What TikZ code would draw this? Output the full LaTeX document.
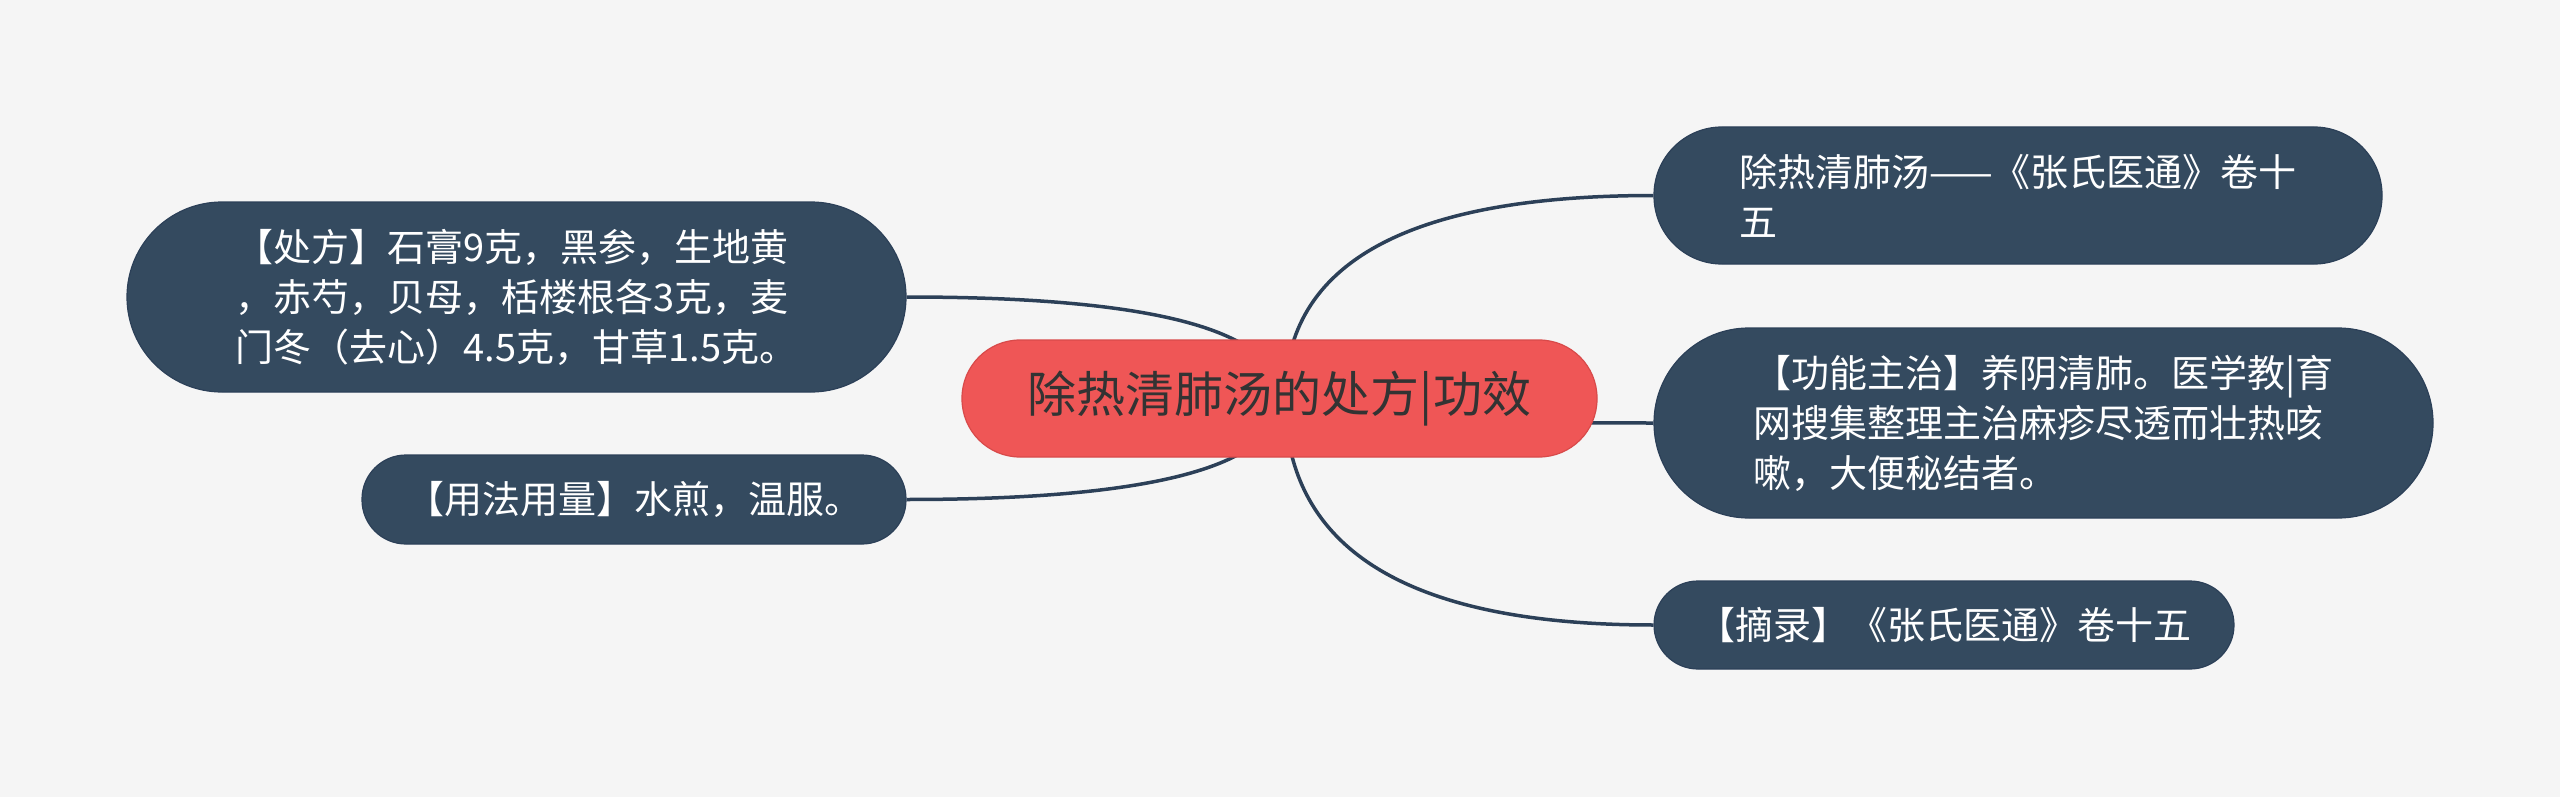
\documentclass[tikz,border=0pt]{standalone}
\usepackage{fontspec}
\usetikzlibrary{calc}
\newfontfamily\cjk{Noto Sans CJK SC}
\definecolor{bgc}{HTML}{F5F5F5}
\definecolor{navy}{HTML}{344A5F}
\definecolor{navyline}{HTML}{2C4058}
\definecolor{coral}{HTML}{EF5656}
\definecolor{coraledge}{HTML}{D84A4A}
\definecolor{darktext}{HTML}{333333}
\pgfdeclarelayer{back}
\pgfdeclarelayer{bg}
\pgfsetlayers{back,bg,main}
\tikzset{
  child/.style={draw=navyline, line width=1.2pt, fill=navy, text=white, inner sep=0pt, align=left,
    font=\cjk\fontsize{38}{50}\selectfont},
  root/.style={draw=coraledge, line width=1.2pt, fill=coral, text=darktext, inner sep=0pt,
    minimum width=635pt, minimum height=117pt, rounded corners=58pt,
    font=\cjk\fontsize{49}{60}\selectfont},
  link/.style={draw=navyline, line width=3.5pt}
}
\newcommand{\qlink}[2]{%
  \draw[link] (#1) .. controls ($(#1)!0.667!(#1 |- #2)$) and ($(#2)!0.667!(#1 |- #2)$) .. (#2);}
\begin{document}
\begin{tikzpicture}[x=1pt,y=-1pt]
\begin{pgfonlayer}{back}
\fill[bgc] (0,0) rectangle (2560,797);
\end{pgfonlayer}
\useasboundingbox (0,0) rectangle (2560,797);
\node[root] (root) at (1279.5,398.5) {除热清肺汤的处方|功效};
\coordinate (lo) at (1280,398);
\coordinate (ro) at (1285,398);
\node[child, minimum width=779pt, minimum height=190pt, rounded corners=95pt] (c1) at (516.5,297)
  {【处方】石膏9克，黑参，生地黄\\，赤芍，贝母，栝楼根各3克，麦\\门冬（去心）4.5克，甘草1.5克。};
\node[child, minimum width=544pt, minimum height=89pt, rounded corners=44pt] (c2) at (634,499.5)
  {【用法用量】水煎，温服。};
\node[child, minimum width=728pt, minimum height=137pt, rounded corners=68pt] (r1) at (2018,195.5)
  {除热清肺汤——《张氏医通》卷十\\五};
\node[child, minimum width=779pt, minimum height=190pt, rounded corners=95pt] (r2) at (2043.5,423)
  {【功能主治】养阴清肺。医学教|育\\网搜集整理主治麻疹尽透而壮热咳\\嗽，大便秘结者。};
\node[child, minimum width=580pt, minimum height=88pt, rounded corners=44pt] (r3) at (1944,625)
  {【摘录】《张氏医通》卷十五};
\begin{pgfonlayer}{bg}
\qlink{lo}{c1.east}
\qlink{lo}{c2.east}
\qlink{ro}{r1.west}
\qlink{ro}{r2.west}
\qlink{ro}{r3.west}
\end{pgfonlayer}
\end{tikzpicture}
\end{document}
